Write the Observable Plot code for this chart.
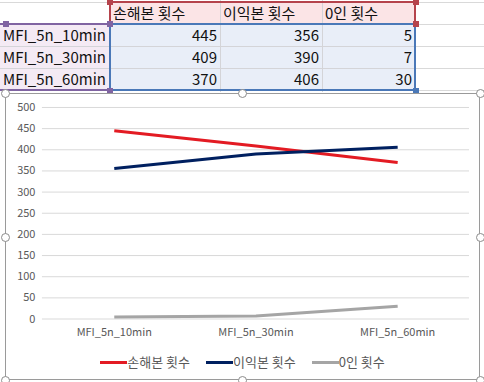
<!DOCTYPE html>
<html>
<head>
<meta charset="utf-8">
<script src="https://cdn.jsdelivr.net/npm/d3@7"></script>
<script src="https://cdn.jsdelivr.net/npm/@observablehq/plot@0.6"></script>
<style>
  html, body { margin:0; padding:0; background:#fff; width:484px; height:382px; overflow:hidden; }
  body { position:relative; font-family:"Noto Sans CJK KR","Noto Sans",sans-serif; }
  .grid-h { position:absolute; left:0; width:484px; height:1px; background:#d9d9d9; }
  .grid-v { position:absolute; top:0; width:1px; height:92px; background:#d9d9d9; }
  .cell { position:absolute; height:22px; line-height:22px; font-size:15px; color:#111; box-sizing:border-box; padding:0 3px; white-space:nowrap; overflow:hidden; }
  .sel { position:absolute; box-sizing:border-box; }
  .sq { position:absolute; width:6px; height:6px; }
  #chart { position:absolute; left:5px; top:93px; width:475px; height:287px; box-sizing:border-box; border:1px solid #9a9a9a; background:#fff; }
  #plot { position:absolute; left:-1px; top:-1px; }
  #legend { position:absolute; left:0; right:0; top:260px; display:flex; justify-content:center; font-size:13px; color:#595959; line-height:16px; }
  .li { display:flex; align-items:center; margin:0 8px; }
  .sw { width:27px; height:3px; }
  .h { position:absolute; width:9px; height:9px; border-radius:50%; border:1px solid #8c8c8c; background:#fff; box-sizing:border-box; }
</style>
</head>
<body>
<div id="sheet"></div>
<div id="chart"><div id="plot"></div><div id="legend"></div></div>
<div id="handles"></div>
<script>
// ---- data ----
const categories = ["MFI_5n_10min", "MFI_5n_30min", "MFI_5n_60min"];
const seriesNames = ["손해본 횟수", "이익본 횟수", "0인 횟수"];
const lossCounts = [445, 409, 370];
const profitCounts = [356, 390, 406];
const zeroCounts = [5, 7, 30];
const yTicks = [0, 50, 100, 150, 200, 250, 300, 350, 400, 450, 500];
const seriesColors = ["#e31b23", "#002060", "#a5a5a5"];

const seriesValues = [lossCounts, profitCounts, zeroCounts];
const data = [];
seriesNames.forEach((s, i) => categories.forEach((c, j) => data.push({series: s, cat: c, value: seriesValues[i][j]})));

// ---- spreadsheet ----
const sheet = document.getElementById("sheet");
const rowTops = [2, 24, 46, 68, 90];
const colLefts = [0, 110, 220, 322, 415];
const colRights = [110, 220, 322, 415, 484];
function add(parent, cls, style, text) {
  const d = document.createElement("div");
  d.className = cls;
  Object.assign(d.style, style);
  if (text !== undefined) d.textContent = text;
  parent.appendChild(d);
  return d;
}
rowTops.forEach(t => add(sheet, "grid-h", {top: t + "px"}));
colLefts.slice(1).forEach(l => add(sheet, "grid-v", {left: l + "px"}));
// backgrounds
add(sheet, "sel", {left: "110px", top: "2px", width: "305px", height: "22px", background: "#fbe4e6"});
add(sheet, "sel", {left: "0px", top: "24px", width: "110px", height: "66px", background: "#f4eaf4"});
add(sheet, "sel", {left: "110px", top: "24px", width: "305px", height: "66px", background: "#e9eef8"});
rowTops.forEach(t => add(sheet, "sel", {left: "110px", top: t + "px", width: "305px", height: "1px", background: "#d4d4d8"}));
rowTops.slice(1,4).forEach(t => add(sheet, "sel", {left: "0px", top: t + "px", width: "110px", height: "1px", background: "#d4d4d8"}));
[220, 322].forEach(l => add(sheet, "sel", {left: l + "px", top: "2px", width: "1px", height: "88px", background: "#d4d4d8"}));
// header text
seriesNames.forEach((s, i) => add(sheet, "cell", {left: colLefts[i+1] + "px", top: "2px", width: (colRights[i+1]-colLefts[i+1]) + "px"}, s));
categories.forEach((c, j) => {
  add(sheet, "cell", {left: "0px", top: rowTops[j+1] + "px", width: "110px"}, c);
  seriesValues.forEach((vals, i) => add(sheet, "cell", {left: colLefts[i+1] + "px", top: rowTops[j+1] + "px", width: (colRights[i+1]-colLefts[i+1]) + "px", textAlign: "right"}, String(vals[j])));
});
// selection borders
add(sheet, "sel", {left: "109px", top: "1px", width: "307px", height: "24px", border: "2px solid #b5434c"});
add(sheet, "sel", {left: "0px", top: "23px", width: "111px", height: "68px", border: "2px solid #8064a2", borderLeft: "none"});
add(sheet, "sel", {left: "109px", top: "23px", width: "307px", height: "68px", border: "2px solid #4a78b8"});
add(sheet, "sq", {left: "107px", top: "-1px", background: "#b5434c"});
add(sheet, "sq", {left: "413px", top: "-1px", background: "#b5434c"});
add(sheet, "sq", {left: "107px", top: "21px", background: "#8064a2"});
add(sheet, "sq", {left: "3px", top: "21px", background: "#8064a2"});
add(sheet, "sq", {left: "413px", top: "21px", background: "#b5434c"});
add(sheet, "sq", {left: "107px", top: "88px", background: "#8064a2"});
add(sheet, "sq", {left: "413px", top: "88px", background: "#4a78b8"});

// ---- chart ----
const chart = Plot.plot({
  width: 475,
  height: 250,
  marginTop: 14,
  marginBottom: 24,
  marginLeft: 37,
  marginRight: 10,
  style: {fontFamily: "'Noto Sans CJK KR','Noto Sans',sans-serif", fontSize: "11px", color: "#595959", background: "transparent"},
  x: {domain: categories, type: "point", padding: 0.5, label: null, tickSize: 0, tickPadding: 9},
  y: {domain: [0, 500], ticks: yTicks, label: null, tickSize: 0, tickPadding: 7},
  color: {domain: seriesNames, range: seriesColors},
  marks: [
    Plot.gridY(yTicks, {stroke: "#d9d9d9", strokeOpacity: 1}),
    Plot.line(data, {x: "cat", y: "value", z: "series", stroke: "series", strokeWidth: 3, strokeLinecap: "butt", strokeLinejoin: "round"})
  ]
});
document.getElementById("plot").appendChild(chart);

const legend = document.getElementById("legend");
seriesNames.forEach((s, i) => {
  const li = add(legend, "li", {});
  add(li, "sw", {background: seriesColors[i]});
  add(li, "", {}, s);
});

// chart handles
const hs = document.getElementById("handles");
[[5,93],[242,93],[480,93],[5,237],[480,237],[5,380],[242,380],[480,380]].forEach(([x,y]) =>
  add(hs, "h", {left: (x-4) + "px", top: (y-4) + "px"}));
</script>
</body>
</html>
